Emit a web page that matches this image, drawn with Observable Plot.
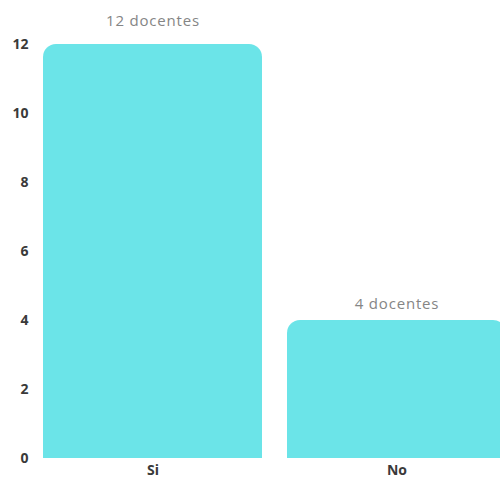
<!DOCTYPE html>
<html>
<head>
<meta charset="utf-8">
<script src="https://cdn.jsdelivr.net/npm/d3@7"></script>
<script src="https://cdn.jsdelivr.net/npm/@observablehq/plot@0.6"></script>
<style>
  html, body { margin: 0; padding: 0; background: #fff; overflow: hidden; }
  svg { font-family: "Open Sans", Lato, sans-serif; }
</style>
</head>
<body>
<div id="chart"></div>
<script>
const categories = ["Si", "No"];
const values = [12, 4];
const labels = ["12 docentes", "4 docentes"];
const yTicks = [0, 2, 4, 6, 8, 10, 12];

const data = categories.map((c, i) => ({cat: c, value: values[i], label: labels[i]}));
const color = "#6be4e8";

const chart = Plot.plot({
  width: 500,
  height: 479,
  marginLeft: 43,
  marginRight: -6,
  marginTop: 44,
  marginBottom: 21,
  style: {fontFamily: "'Open Sans', Lato, sans-serif", overflow: "hidden"},
  x: {domain: categories, paddingInner: 0.1025, paddingOuter: 0, label: null},
  y: {domain: [0, 12], ticks: yTicks, label: null},
  marks: [
    Plot.barY(data, {x: "cat", y: "value", fill: color, rx: 13}),
    Plot.barY(data, {x: "cat", y1: 0, y2: d => d.value / 2, fill: color}),
    Plot.axisY({ticks: yTicks, tickSize: 0, tickPadding: 15, fontSize: 14, fontWeight: "bold", fill: "#3a3a3a", label: null}),
    Plot.axisX({tickSize: 0, tickPadding: 7, fontSize: 14, fontWeight: "bold", fill: "#3a3a3a", label: null}),
    Plot.text(data.filter(d => d.value === 12), {x: "cat", y: "value", text: "label", dy: -23, fontSize: 15, fill: "#858585"}),
    Plot.text(data.filter(d => d.value === 4), {x: "cat", y: "value", text: "label", dy: -16, fontSize: 15, fill: "#858585"})
  ]
});
chart.querySelectorAll("text").forEach(t => {
  if (t.textContent.includes("docentes")) t.style.letterSpacing = "0.8px";
});
document.getElementById("chart").appendChild(chart);
</script>
</body>
</html>
